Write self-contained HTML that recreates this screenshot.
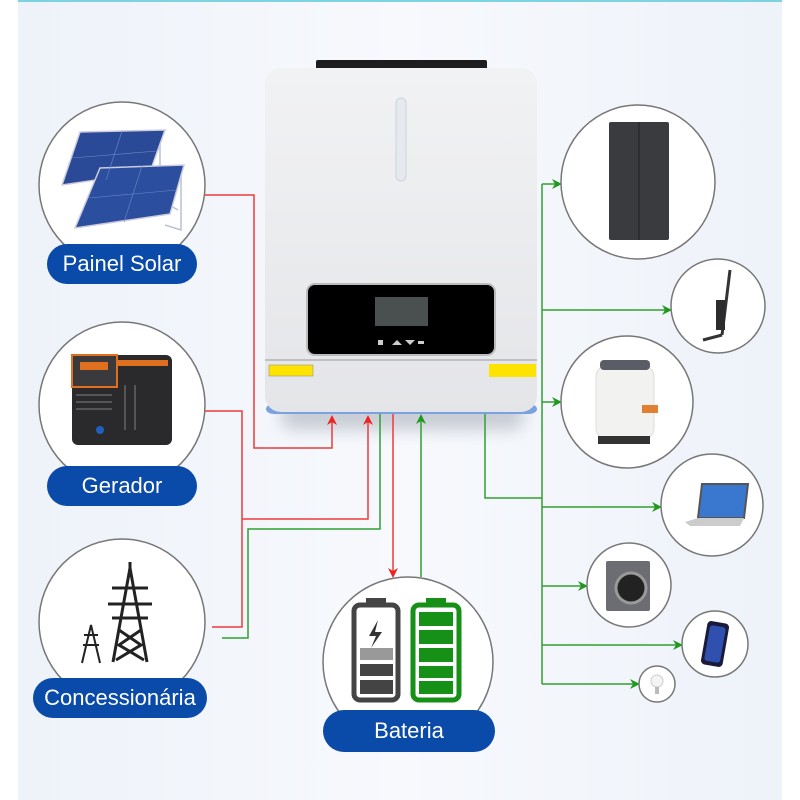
<!DOCTYPE html>
<html><head><meta charset="utf-8"><style>
body{margin:0;width:800px;height:800px;overflow:hidden;background:#fff;font-family:"Liberation Sans",sans-serif}
.pill{position:absolute;background:#0a4aa8;color:#fff;border-radius:22px;font-size:22px;text-align:center;line-height:40px;height:40px}
</style></head><body>
<svg width="800" height="800" style="position:absolute;left:0;top:0">
<defs>
<linearGradient id="bg" x1="0" y1="0" x2="1" y2="0"><stop offset="0" stop-color="#eef2f9"/><stop offset="0.5" stop-color="#f7f9fd"/><stop offset="1" stop-color="#eef2f9"/></linearGradient>
<linearGradient id="inv" x1="0" y1="0" x2="0" y2="1"><stop offset="0" stop-color="#f1f2f4"/><stop offset="1" stop-color="#e4e5e8"/></linearGradient>
<filter id="blur" x="-20%" y="-50%" width="140%" height="200%"><feGaussianBlur stdDeviation="8"/></filter>
<marker id="ar" markerWidth="10" markerHeight="10" refX="8" refY="5" orient="auto" markerUnits="userSpaceOnUse"><path d="M0,0 L10,5 L0,10 L3,5z" fill="#ee2222"/></marker>
<marker id="ag" markerWidth="10" markerHeight="10" refX="8" refY="5" orient="auto" markerUnits="userSpaceOnUse"><path d="M0,0 L10,5 L0,10 L3,5z" fill="#1f9a1f"/></marker>
</defs>
<rect x="0" y="0" width="800" height="800" fill="#ffffff"/>
<rect x="18" y="0" width="764" height="800" fill="url(#bg)"/>
<line x1="18" y1="1" x2="782" y2="1" stroke="#7dd3e0" stroke-width="2"/>

<rect x="280" y="400" width="245" height="30" rx="15" fill="#c8ccd4" filter="url(#blur)"/>

<g fill="none" stroke="#ee3a3a" stroke-width="1.5">
<polyline points="205,195 254,195 254,448 332,448 332,417" marker-end="url(#ar)"/>
<polyline points="205,411 242,411 242,627 212,627"/>
<polyline points="242,519 368,519 368,417" marker-end="url(#ar)"/>
<polyline points="393,414 393,576" marker-end="url(#ar)"/>
</g>
<g fill="none" stroke="#2fa02f" stroke-width="1.5">
<polyline points="380,414 380,529 248,529 248,638 222,638"/>
<polyline points="421,577 421,416" marker-end="url(#ag)"/>
<polyline points="485,414 485,498 542,498"/>
<polyline points="542,184 542,684"/>
<polyline points="542,184 560,184" marker-end="url(#ag)"/>
<polyline points="542,310 670,310" marker-end="url(#ag)"/>
<polyline points="542,402 560,402" marker-end="url(#ag)"/>
<polyline points="542,507 660,507" marker-end="url(#ag)"/>
<polyline points="542,586 586,586" marker-end="url(#ag)"/>
<polyline points="542,645 681,645" marker-end="url(#ag)"/>
<polyline points="542,684 638,684" marker-end="url(#ag)"/>
</g>

<g fill="#fff" stroke="#777" stroke-width="1.5">
<circle cx="122" cy="185" r="83"/>
<circle cx="122" cy="405" r="83"/>
<circle cx="122" cy="622" r="83"/>
<circle cx="408" cy="662" r="85"/>
<circle cx="638" cy="182" r="77"/>
<circle cx="718" cy="306" r="47"/>
<circle cx="627" cy="402" r="66"/>
<circle cx="712" cy="505" r="51"/>
<circle cx="629" cy="585" r="42"/>
<circle cx="715" cy="644" r="33"/>
<circle cx="657" cy="684" r="18"/>
</g>

<g stroke="#b8c2d0" stroke-width="1.5" fill="none"><polyline points="160,135 160,200 178,210"/><polyline points="181,172 181,230 165,225"/></g>
<polygon points="80,132 165,130 150,172 62,185" fill="#2a4a98" stroke="#ccd" stroke-width="1.5"/>
<polygon points="100,168 184,165 170,214 75,228" fill="#2b4e9e" stroke="#ccd" stroke-width="1.5"/>
<g stroke="#6f88c8" stroke-width="0.6"><line x1="122" y1="131" x2="106" y2="180"/><line x1="142" y1="166" x2="124" y2="222"/><line x1="72" y1="158" x2="157" y2="151"/><line x1="88" y1="198" x2="177" y2="190"/></g>

<rect x="72" y="355" width="100" height="90" rx="6" fill="#2a2a2c"/>
<rect x="72" y="355" width="45" height="32" fill="#3a3a3c" stroke="#e07020" stroke-width="2"/>
<rect x="80" y="362" width="28" height="8" fill="#e07020"/>
<rect x="118" y="360" width="50" height="6" fill="#e07020"/>
<g stroke="#555" stroke-width="2"><line x1="76" y1="395" x2="112" y2="395"/><line x1="76" y1="402" x2="112" y2="402"/><line x1="76" y1="409" x2="112" y2="409"/><line x1="125" y1="385" x2="125" y2="430"/><line x1="135" y1="385" x2="135" y2="430"/></g>
<circle cx="100" cy="430" r="4" fill="#2060c0"/>

<g stroke="#222" stroke-width="3" fill="none">
<polyline points="113,662 130,568 147,662"/><line x1="130" y1="562" x2="130" y2="575"/>
<line x1="112" y1="588" x2="148" y2="588"/><line x1="108" y1="604" x2="152" y2="604"/><line x1="112" y1="618" x2="148" y2="618"/>
<polyline points="119,630 141,645 116,660"/><polyline points="141,630 119,645 144,660"/>
</g>
<g stroke="#222" stroke-width="2" fill="none"><polyline points="82,663 91,625 100,663"/><line x1="84" y1="635" x2="98" y2="635"/><line x1="83" y1="645" x2="99" y2="645"/></g>

<rect x="366" y="598" width="20" height="8" fill="#444"/>
<rect x="354" y="605" width="44" height="95" rx="6" fill="#fff" stroke="#444" stroke-width="5"/>
<rect x="360" y="648" width="33" height="12" fill="#999"/>
<rect x="360" y="664" width="33" height="12" fill="#444"/>
<rect x="360" y="680" width="33" height="14" fill="#444"/>
<path d="M378,620 L369,636 L376,636 L371,648 L382,632 L375,632z" fill="#333"/>
<rect x="426" y="598" width="20" height="8" fill="#169016"/>
<rect x="413" y="605" width="46" height="95" rx="6" fill="#fff" stroke="#169016" stroke-width="5"/>
<g fill="#169016"><rect x="419" y="612" width="34" height="14"/><rect x="419" y="630" width="34" height="14"/><rect x="419" y="648" width="34" height="14"/><rect x="419" y="666" width="34" height="12"/><rect x="419" y="681" width="34" height="13"/></g>

<rect x="609" y="122" width="60" height="118" rx="2" fill="#3a3b3e"/><line x1="639" y1="122" x2="639" y2="240" stroke="#222"/>
<g stroke="#333" stroke-width="3" fill="none"><line x1="730" y1="270" x2="722" y2="335"/><line x1="722" y1="335" x2="703" y2="340"/></g><rect x="716" y="300" width="9" height="30" fill="#2c2c2e"/>
<rect x="596" y="365" width="58" height="75" rx="12" fill="#f2f2f0" stroke="#ddd"/><rect x="600" y="360" width="50" height="10" rx="4" fill="#5a5c66"/><rect x="642" y="405" width="16" height="8" fill="#e08030"/><rect x="598" y="436" width="52" height="8" fill="#333"/>
<polygon points="702,484 748,484 744,518 698,518" fill="#3a78d0" stroke="#555" stroke-width="2"/><polygon points="685,522 698,518 744,518 740,526 690,526" fill="#ccc"/>
<rect x="606" y="561" width="44" height="50" rx="2" fill="#6c6d72"/><circle cx="631" cy="588" r="15" fill="#222" stroke="#999" stroke-width="3"/>
<rect x="704" y="622" width="22" height="44" rx="4" fill="#1a1a3a" transform="rotate(10 715 644)"/><rect x="707" y="626" width="16" height="36" rx="3" fill="#3050b0" transform="rotate(10 715 644)"/>
<circle cx="657" cy="681" r="6" fill="#f4f4f4" stroke="#ccc"/><rect x="655" y="687" width="4" height="7" fill="#bbb"/>

<rect x="266" y="404" width="271" height="10" rx="8" fill="#7aa2e0"/>
<rect x="316" y="60" width="171" height="12" rx="2" fill="#1d1d20"/>
<rect x="265" y="68" width="272" height="344" rx="16" fill="url(#inv)"/>
<rect x="396" y="98" width="10" height="83" rx="5" fill="#e6e9f0" stroke="#cdd2dc"/>
<rect x="307" y="284" width="188" height="71" rx="8" fill="#000" stroke="#bbb" stroke-width="2"/>
<rect x="375" y="297" width="53" height="29" fill="#4a5050"/>
<g fill="#ccc"><rect x="378" y="340" width="5" height="5"/><path d="M392,345 L397,340 L402,345z"/><path d="M405,340 L410,345 L415,340z"/><rect x="418" y="341" width="6" height="3"/></g>
<line x1="265" y1="360" x2="537" y2="360" stroke="#999"/>
<rect x="269" y="365" width="44" height="11" fill="#ffe300" stroke="#888" stroke-width="0.5"/>
<rect x="489" y="364" width="47" height="13" fill="#ffe300"/>
</svg>
<div class="pill" style="left:47px;top:244px;width:150px">Painel Solar</div>
<div class="pill" style="left:47px;top:466px;width:150px">Gerador</div>
<div class="pill" style="left:33px;top:678px;width:174px">Concessionária</div>
<div class="pill" style="left:323px;top:710px;width:172px;height:42px;line-height:42px">Bateria</div>
</body></html>
